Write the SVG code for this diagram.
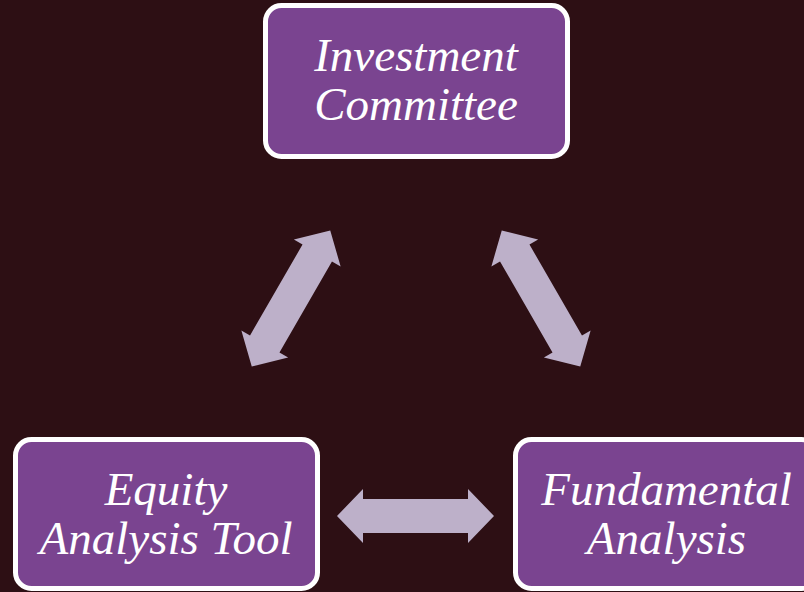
<svg xmlns="http://www.w3.org/2000/svg" width="804" height="592" viewBox="0 0 804 592">
<defs>
<style>
.node{fill:#7a4490;stroke:#ffffff;stroke-width:5}
.lbl{font-family:"Liberation Serif","Times New Roman",serif;font-style:italic;font-size:47px;fill:#ffffff;text-anchor:middle}
.arr{fill:#bdb0c9}
</style>
<polygon id="dblarrow" class="arr" points="-78.5,0 -52.5,-27 -52.5,-17 52.5,-17 52.5,-27 78.5,0 52.5,27 52.5,17 -52.5,17 -52.5,27"/>
</defs>
<rect width="804" height="592" fill="#2d0f14"/>
<g id="connectors">
<use href="#dblarrow" transform="translate(291,298.5) rotate(-60)"/>
<use href="#dblarrow" transform="translate(541,298.5) rotate(60)"/>
<use href="#dblarrow" transform="translate(415.5,516)"/>
</g>
<g id="node-investment">
<rect class="node" x="265.5" y="5.5" width="302" height="151" rx="16"/>
<text class="lbl" x="416" y="71">Investment</text>
<text class="lbl" x="416" y="120">Committee</text>
</g>
<g id="node-equity">
<rect class="node" x="15.5" y="439.5" width="302" height="149" rx="16"/>
<text class="lbl" x="166" y="505">Equity</text>
<text class="lbl" x="166" y="554">Analysis Tool</text>
</g>
<g id="node-fundamental">
<rect class="node" x="515.5" y="439.5" width="302" height="149" rx="16"/>
<text class="lbl" x="666.5" y="505">Fundamental</text>
<text class="lbl" x="666.5" y="554">Analysis</text>
</g>
</svg>
